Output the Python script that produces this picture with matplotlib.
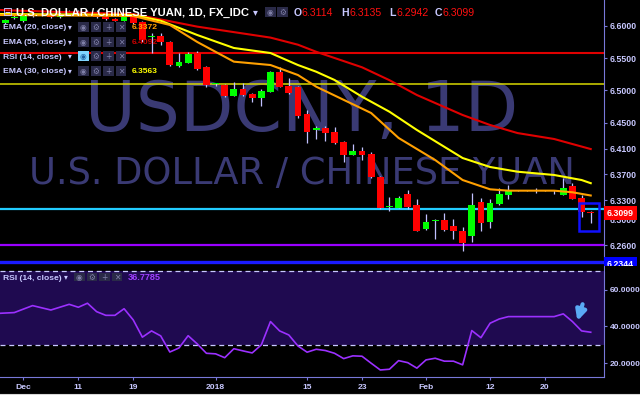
import matplotlib
matplotlib.use("Agg")
import matplotlib.pyplot as plt
import matplotlib.transforms as mtrans
from matplotlib.patches import Rectangle
import numpy as np
import pandas as pd

# ------------------------------------------------------------------ data
dates = pd.bdate_range("2017-11-29", "2018-02-27")

opens = [6.6051, 6.6124, 6.6078, 6.6155, 6.6186, 6.6171, 6.6140, 6.6186, 6.6217, 6.6171,
         6.6222, 6.6144, 6.6104, 6.6082, 6.6181, 6.6062, 6.5822, 6.5845, 6.5752, 6.5380,
         6.5431, 6.5577, 6.5360, 6.5093, 6.5085, 6.4919, 6.5023, 6.4941, 6.4888, 6.4981,
         6.5292, 6.5074, 6.5059, 6.4636, 6.4395, 6.4419, 6.4352, 6.4197, 6.4005, 6.4062,
         6.4016, 6.3654, 6.3194, 6.3183, 6.3391, 6.3220, 6.2853, 6.2974, 6.2988, 6.2899,
         6.2826, 6.2744, 6.3276, 6.2957, 6.3240, 6.3380, 6.3444, 6.3446, 6.3444, 6.3446,
         6.3444, 6.3385, 6.3519, 6.3338, 6.3114]
highs = [6.6109, 6.6186, 6.6186, 6.6217, 6.6217, 6.6202, 6.6217, 6.6248, 6.6248, 6.6248,
         6.6248, 6.6171, 6.6124, 6.6171, 6.6202, 6.6078, 6.5892, 6.5892, 6.5767, 6.5581,
         6.5602, 6.5612, 6.5380, 6.5116, 6.5101, 6.5136, 6.5121, 6.4961, 6.5023, 6.5302,
         6.5369, 6.5198, 6.5070, 6.4698, 6.4450, 6.4450, 6.4434, 6.4217, 6.4166, 6.4119,
         6.4047, 6.3674, 6.3344, 6.3369, 6.3457, 6.3318, 6.3081, 6.3008, 6.3096, 6.3008,
         6.2884, 6.3416, 6.3329, 6.3318, 6.3484, 6.3535, 6.3450, 6.3450, 6.3493, 6.3450,
         6.3457, 6.3648, 6.3566, 6.3380, 6.3135]
lows = [6.6031, 6.6109, 6.6062, 6.6140, 6.6155, 6.6124, 6.6124, 6.6171, 6.6171, 6.6155,
        6.6124, 6.6093, 6.6070, 6.6070, 6.6031, 6.5752, 6.5581, 6.5705, 6.5380, 6.5364,
        6.5426, 6.5318, 6.5054, 6.5070, 6.4899, 6.4915, 6.4915, 6.4822, 6.4764, 6.4977,
        6.5054, 6.4946, 6.4574, 6.4191, 6.4248, 6.4217, 6.4171, 6.3896, 6.4000, 6.3922,
        6.3643, 6.3158, 6.3136, 6.3178, 6.3158, 6.2822, 6.2837, 6.2693, 6.2822, 6.2693,
        6.2516, 6.2656, 6.2826, 6.2864, 6.3225, 6.3313, 6.3440, 6.3440, 6.3406, 6.3440,
        6.3395, 6.3380, 6.3318, 6.3043, 6.2942]
closes = [6.6093, 6.6140, 6.6155, 6.6186, 6.6171, 6.6140, 6.6186, 6.6217, 6.6194, 6.6217,
          6.6144, 6.6104, 6.6082, 6.6155, 6.6042, 6.5783, 6.5837, 6.5752, 6.5395, 6.5442,
          6.5566, 6.5329, 6.5085, 6.5101, 6.4915, 6.5023, 6.4926, 6.4888, 6.4992, 6.5282,
          6.5059, 6.4957, 6.4605, 6.4361, 6.4411, 6.4346, 6.4181, 6.4000, 6.4057, 6.4000,
          6.3654, 6.3183, 6.3209, 6.3338, 6.3189, 6.2826, 6.2961, 6.2985, 6.2837, 6.2822,
          6.2631, 6.3220, 6.2950, 6.3251, 6.3391, 6.3442, 6.3446, 6.3444, 6.3446, 6.3444,
          6.3446, 6.3484, 6.3322, 6.3112, 6.3099]

# EMA readings (day position, 0 = 2017-11-29)
ema20_pos = [-1, 14, 18, 21, 25, 29, 32, 34, 40, 43, 47, 50, 53, 55, 60, 62, 64]
ema20_val = [6.6171, 6.6155, 6.6016, 6.5752, 6.5447, 6.5395, 6.5240, 6.5059, 6.4651,
             6.4264, 6.3922, 6.3612, 6.3468, 6.3447, 6.3447, 6.3422, 6.3372]
ema30_pos = [-1, 14, 17, 21, 25, 29, 32, 34, 36, 39, 42, 45, 50, 53, 56, 60, 63, 64]
ema30_val = [6.6186, 6.6171, 6.6082, 6.5860, 6.5659, 6.5581, 6.5395, 6.5291, 6.5163,
             6.4904, 6.4671, 6.4388, 6.3953, 6.3814, 6.3741, 6.3690, 6.3612, 6.3563]
ema55_pos = [-1, 6, 14, 21, 29, 32, 34, 39, 42, 45, 50, 53, 56, 60, 64]
ema55_val = [6.6250, 6.6217, 6.6186, 6.5990, 6.5820, 6.5710, 6.5600, 6.5360, 6.5160,
             6.4930, 6.4620, 6.4465, 6.4340, 6.4248, 6.4092]

rsi_pos = [-1, 1, 3, 5, 7, 8, 9, 10, 11, 12, 13, 14, 15, 16, 17, 18, 19, 20, 21, 22, 23,
           24, 25, 26, 27, 28, 29, 30, 31, 32, 33, 34, 35, 36, 37, 38, 39, 40, 41, 42, 43,
           44, 45, 46, 47, 48, 49, 50, 51, 52, 53, 54, 55, 56, 57, 58, 59, 60, 61, 62, 63, 64]
rsi_val = [47.0, 47.5, 51.3, 48.9, 52.0, 50.4, 52.6, 48.0, 46.0, 46.0, 49.6, 43.5, 34.1,
           37.5, 34.8, 26.0, 28.2, 34.9, 30.4, 25.3, 25.0, 22.9, 27.8, 26.6, 25.5, 29.9,
           42.6, 37.5, 35.3, 29.3, 25.9, 27.5, 26.8, 25.3, 22.4, 23.9, 23.7, 19.9, 16.2,
           16.6, 21.3, 20.2, 17.2, 21.7, 22.6, 21.0, 21.0, 19.0, 37.7, 33.8, 41.7, 44.0,
           45.3, 45.3, 45.3, 45.3, 45.3, 45.3, 46.8, 42.6, 37.5, 36.7785]

h_red, h_yellow, h_cyan, h_purple, h_blue = 6.5577, 6.5101, 6.3163, 6.2612, 6.2344
price_ticks = [6.60, 6.55, 6.50, 6.45, 6.41, 6.37, 6.33, 6.30, 6.26]
rsi_ticks = [20, 40, 60]
xtick_dates = ["2017-12-01", "2017-12-11", "2017-12-19", "2018-01-01", "2018-01-15",
               "2018-01-23", "2018-02-01", "2018-02-12", "2018-02-20"]
xtick_labels = ["Dec", "11", "19", "2018", "15", "23", "Feb", "12", "20"]

# ------------------------------------------------------------------ style
W, H = 640, 395
LAV = "#c8c8ff"
AXC = "#7878d8"
UI = ["Liberation Sans", "DejaVu Sans"]
plt.rcParams["font.family"] = ["DejaVu Sans"]

fig = plt.figure(figsize=(W / 100, H / 100), dpi=100, facecolor="black")


def fbox(x0, y0, x1, y1):
    return [x0 / W, 1 - y1 / H, (x1 - x0) / W, (y1 - y0) / H]


x = np.arange(len(dates))
xlim = (-0.56, 65.45)

# ------------------------------------------------------------------ price panel
ax = fig.add_axes(fbox(0, 0, 604, 266))
ax.set_facecolor("black")
ax.set_xlim(*xlim)
ax.set_ylim(6.2279, 6.6403)

ax.text(0.5, 0.5075, "USDCNY, 1D", transform=ax.transAxes, ha="center", va="baseline",
        fontsize=50, color="#3a3a74", zorder=1)
ax.text(0.5, 0.3083, "U.S. DOLLAR / CHINESE YUAN", transform=ax.transAxes, ha="center",
        va="baseline", fontsize=26.5, color="#3a3a74", zorder=1)

ax.axhline(h_red, color="#e00000", lw=1.5, zorder=2)
ax.axhline(h_yellow, color="#d8d800", lw=1.1, zorder=2)
ax.axhline(h_cyan, color="#22ccff", lw=1.6, zorder=2)
ax.axhline(h_purple, color="#9900ff", lw=1.6, zorder=2)
ax.axhline(h_blue, color="#1a1aff", lw=2.4, zorder=2)

o = np.array(opens); c = np.array(closes); hi = np.array(highs); lo = np.array(lows)
col = np.where(c >= o, "#00ff00", "#ff0000")
ax.vlines(x, lo, hi, colors="#c0c0ff", lw=0.9, zorder=3)
ax.bar(x, np.maximum(np.abs(c - o), 0.0016), bottom=np.minimum(o, c), width=0.74,
       color=col, linewidth=0, zorder=4)

ax.plot(ema55_pos, ema55_val, color="#e00000", lw=1.5, zorder=5)
ax.plot(ema30_pos, ema30_val, color="#ffff00", lw=1.5, zorder=5)
ax.plot(ema20_pos, ema20_val, color="#ffa000", lw=1.5, zorder=5)

ax.add_patch(Rectangle((62.75, 6.2814), 2.19, 0.044, fill=False, ec="#1010ff", lw=1.8,
                       zorder=6))

ax.yaxis.tick_right()
ax.set_yticks(price_ticks)
ax.set_yticklabels([f"{v:.4f}" for v in price_ticks])
ax.tick_params(axis="y", colors=AXC, labelcolor=LAV, labelsize=6.3, length=2.5,
               width=0.8, pad=1.5)
for t in ax.get_yticklabels():
    t.set_family(UI); t.set_weight("bold")
ax.set_xticks([])
for s in ["top", "left", "bottom"]:
    ax.spines[s].set_visible(False)
ax.spines["right"].set_color(AXC)

bt = mtrans.blended_transform_factory(ax.transAxes, ax.transData)
ax.text(1.005, closes[-1], f"{closes[-1]:.4f}", transform=bt, ha="left", va="center",
        fontsize=6.3, color="white", weight="bold", family=UI, clip_on=False,
        zorder=8, bbox=dict(boxstyle="square,pad=0.3", fc="#ff0000", ec="none"))
bt_low = bt + mtrans.ScaledTranslation(0, -2.5 / 100, fig.dpi_scale_trans)
ax.text(1.005, h_blue, f"{h_blue:.4f}", transform=bt_low, ha="left", va="center",
        fontsize=6.3, color="white", weight="bold", family=UI, clip_on=False,
        zorder=8, bbox=dict(boxstyle="square,pad=0.3", fc="#0000ff", ec="none"))

# ------------------------------------------------------------------ RSI panel
ar = fig.add_axes(fbox(0, 266, 604, 377))
ar.set_facecolor("black")
ar.set_xlim(*xlim)
ar.set_ylim(12.37, 72.9)
ar.axhspan(30, 70, color="#1f0a50", lw=0, zorder=0)
ar.axhline(70, color=LAV, lw=0.9, ls=(0, (4, 3)), zorder=2)
ar.axhline(30, color=LAV, lw=0.9, ls=(0, (4, 3)), zorder=2)
ar.plot(rsi_pos, rsi_val, color="#9b30ff", lw=1.2, zorder=3)
ar.annotate("", xy=(62.45, 41.5), xytext=(63.2, 53.5),
            arrowprops=dict(arrowstyle="-|>", color="#5aaaf5", lw=3.0, mutation_scale=15))

ar.yaxis.tick_right()
ar.set_yticks(rsi_ticks)
ar.set_yticklabels([f"{v:.4f}" for v in rsi_ticks])
tick_pos = [dates.get_loc(pd.Timestamp(d)) for d in xtick_dates]
ar.set_xticks(tick_pos)
ar.set_xticklabels(xtick_labels)
ar.tick_params(axis="both", colors=AXC, labelcolor=LAV, labelsize=6.0, length=2.5,
               width=0.8, pad=1.5)
ar.tick_params(axis="x", labelsize=6.1, pad=2.2)
for t in ar.get_yticklabels() + ar.get_xticklabels():
    t.set_family(UI); t.set_weight("bold")
for s in ["top", "left"]:
    ar.spines[s].set_visible(False)
ar.spines["right"].set_color(AXC)
ar.spines["bottom"].set_color(AXC)

# ------------------------------------------------------------------ overlay (legend UI)
ov = fig.add_axes([0, 0, 1, 1], facecolor="none", zorder=10)
ov.set_xlim(0, W); ov.set_ylim(H, 0); ov.axis("off")

ov.add_patch(Rectangle((604.5, 265.6), 35.5, 6, fc="black", ec="none"))
ov.plot([0, W], [394.3, 394.3], color="#d8d8d8", lw=0.8)


def boxes(x0s, y0, y1, hl=False):
    syms = ["\u25c9", "\u2699", "+", "\u2715"]
    for k, (xa, s) in enumerate(zip(x0s, syms)):
        fc = "#7fd4ff" if (hl and k == 0) else "#2a2a48"
        tc = "#1f5fa0" if (hl and k == 0) else "#8080a8"
        ov.add_patch(Rectangle((xa, y0), 10.5, y1 - y0, fc=fc, ec="none"))
        ov.text(xa + 5.25, (y0 + y1) / 2 + 0.5, s, ha="center", va="center", fontsize=5.5,
                color=tc, family="DejaVu Sans")


ov.text(2.5, 16, "\u229f", fontsize=8.5, color=LAV, va="baseline")
ov.text(16.5, 16, "U.S. DOLLAR / CHINESE YUAN, 1D, FX_IDC", fontsize=8.1, weight="bold",
        color="white", family=UI, va="baseline")
ov.text(253, 15, "\u25be", fontsize=7, color=LAV, va="baseline")
boxes([265, 277], 6.7, 16.7)
ohlc = [("O", opens[-1], 294), ("H", highs[-1], 341.5), ("L", lows[-1], 389),
        ("C", closes[-1], 435)]
for lab, v, xp in ohlc:
    ov.text(xp, 16, lab, fontsize=7.6, color=LAV, family=UI, va="baseline", weight="bold")
    ov.text(xp + 7.5, 16, f"{v:.4f}", fontsize=7.6, color="#ff1010", family=UI,
            va="baseline")

rows = [("EMA (20, close)", 29.3, 21.7, f"{ema20_val[-1]:.4f}", "#ffa000", False),
        ("EMA (55, close)", 44.3, 36.7, f"{ema55_val[-1]:.4f}", "#cc0000", False),
        ("RSI (14, close)", 59.0, 50.7, None, None, True),
        ("EMA (30, close)", 73.3, 65.7, f"{ema30_val[-1]:.4f}", "#ffff00", False)]
for lab, yb, yt, val, vc, hl in rows:
    ov.text(3, yb, lab, fontsize=6.1, weight="bold", color=LAV, family=UI, va="baseline")
    ov.text(68, yb - 0.5, "\u25be", fontsize=5.5, color=LAV, va="baseline")
    boxes([78, 90.5, 103, 115.5], yt, yt + 10, hl=hl)
    if val:
        ov.text(132, yb, val, fontsize=6.1, weight="bold", color=vc, family=UI,
                va="baseline")

ov.text(3, 280, "RSI (14, close)", fontsize=6.1, weight="bold", color=LAV, family=UI,
        va="baseline")
ov.text(64, 279.5, "\u25be", fontsize=5.5, color=LAV, va="baseline")
boxes([74, 86.5, 99, 111.5], 272.5, 281)
ov.text(128, 280, f"{rsi_val[-1]:.4f}", fontsize=6.6, weight="bold", color="#a040ff",
        family=UI, va="baseline")

fig.savefig("out.png", dpi=100, facecolor="black")
